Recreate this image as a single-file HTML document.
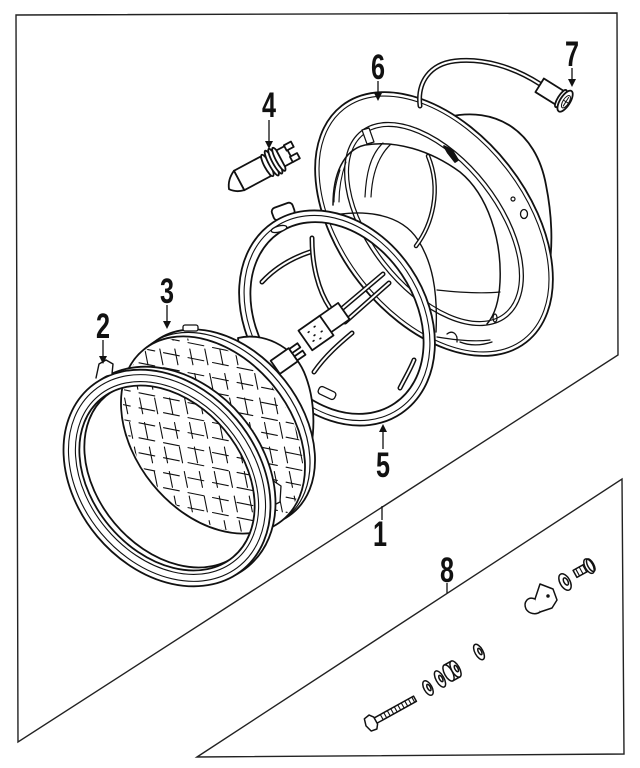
<!DOCTYPE html>
<html><head><meta charset="utf-8"><style>
html,body{margin:0;padding:0;background:#fff;}
svg{display:block;}
.lbl{font-family:"Liberation Sans",sans-serif;font-weight:bold;font-size:35px;fill:#111;}
</style></head><body>
<svg width="640" height="768" viewBox="0 0 640 768" xmlns="http://www.w3.org/2000/svg">
<defs>
<clipPath id="lens"><ellipse cx="0" cy="0" rx="108" ry="76" transform="translate(213,435) rotate(51)"/></clipPath>
</defs>
<rect width="640" height="768" fill="#fff"/>

<!-- frames -->
<g fill="none" stroke="#222" stroke-width="1.4">
<polygon points="16,15 617,13 618,355 18,742"/>
<polygon points="197,757 622,479 624,754"/>
</g>

<g stroke="#111" stroke-width="1.8" fill="#fff" stroke-linejoin="round" stroke-linecap="round">

<!-- PART 6 housing -->
<path d="M448,117 C495,106 536,130 546,185 C552,215 553,245 549,268" fill="none"/>
<g transform="translate(434,224) rotate(52)">
 <ellipse rx="150" ry="95"/>
 <ellipse rx="146" ry="91" fill="none" stroke-width="1.1"/>
 <ellipse rx="118" ry="66" fill="none" stroke-width="1.3"/>
 <ellipse rx="114" ry="62" fill="none" stroke-width="1.2"/>
</g>
<path d="M333,205 C333,175 343,150 365,145 C395,140 430,150 460,172 C488,195 502,240 500,282 C499,302 494,316 487,324" fill="none" stroke-width="1.5"/>
<path d="M383,143 C370,155 366,175 365,197 M391,144 C377,157 372,177 371,197" fill="none" stroke-width="1.2"/>
<path d="M340,170 C336,182 334,192 334,202 M346,162 C341,176 339,190 339,202" fill="none" stroke-width="1.1"/>
<circle cx="513" cy="199" r="2" fill="none" stroke-width="1.2"/>
<ellipse cx="524" cy="214" rx="3.5" ry="4.5" fill="none" stroke-width="1.3"/>
<ellipse cx="495" cy="318" rx="2" ry="4" fill="none" stroke-width="1.2"/>
<path d="M444,146 L452,150 L458,160 L455,162 L448,153 Z" fill="#111"/>
<path d="M362,130 L369,128 L374,142 L367,144 Z" stroke-width="1.2"/>
<!-- interior curves of housing -->
<path d="M320,218 C360,208 400,212 418,240 C432,262 438,290 436,332" fill="none" stroke-width="1.4"/>
<path d="M437,290 C455,292 480,294 500,292" fill="none" stroke-width="1.2"/>
<path d="M437,337 C455,340 475,342 490,340" fill="none" stroke-width="1.2"/>
<path d="M447,334 C452,330 458,333 457,342 M460,342 C470,346 480,346 492,342" fill="none" stroke-width="1.3"/>
<!-- wires inside housing -->
<path d="M428,156 C442,190 432,225 416,246" fill="none" stroke-width="4.5"/>
<path d="M428,156 C442,190 432,225 416,246" fill="none" stroke="#fff" stroke-width="1.8"/>

<!-- wire & connector 7 -->
<path d="M420,106 C417,82 430,64 455,61 C482,58 512,66 540,84" fill="none" stroke-width="5"/>
<path d="M420,106 C417,82 430,64 455,61 C482,58 512,66 540,84" fill="none" stroke="#fff" stroke-width="2"/>
<g transform="translate(560,98) rotate(32)">
 <rect x="-24" y="-8" width="24" height="16"/>
 <ellipse cx="1" rx="3" ry="10"/>
 <ellipse cx="6" rx="5" ry="12"/>
 <ellipse cx="7" rx="3" ry="7" fill="none" stroke-width="1"/>
 <path d="M7,-5 L7,5 M4,0 L10,0" fill="none" stroke-width="1"/>
</g>

<!-- PART 5 retaining ring -->
<rect x="272" y="205" width="22" height="13" rx="4" transform="rotate(-20 283 211)"/>
<g transform="translate(337,318) rotate(56)">
 <path fill-rule="evenodd" d="M-115,0 A115,89 0 1 0 115,0 A115,89 0 1 0 -115,0 Z M-103,0 A103,78 0 1 0 103,0 A103,78 0 1 0 -103,0 Z"/>
 <ellipse rx="110" ry="84" fill="none" stroke-width="1.1"/>
</g>
<ellipse cx="279" cy="229" rx="8" ry="3" transform="rotate(-15 279 229)" stroke-width="1.3"/>
<rect x="318" y="389" width="18" height="8" rx="3" transform="rotate(25 327 393)" stroke-width="1.3"/>
<!-- ring arms -->
<path d="M262,282 C275,268 292,258 310,252" fill="none" stroke-width="5"/>
<path d="M262,282 C275,268 292,258 310,252" fill="none" stroke="#fff" stroke-width="2"/>
<path d="M312,238 C312,265 318,290 330,308" fill="none" stroke-width="5"/>
<path d="M312,238 C312,265 318,290 330,308" fill="none" stroke="#fff" stroke-width="2"/>
<path d="M314,372 C325,356 340,343 352,333" fill="none" stroke-width="5"/>
<path d="M314,372 C325,356 340,343 352,333" fill="none" stroke="#fff" stroke-width="2"/>
<path d="M400,388 C405,378 410,370 414,360" fill="none" stroke-width="5"/>
<path d="M400,388 C405,378 410,370 414,360" fill="none" stroke="#fff" stroke-width="2"/>
<!-- wires to connector -->
<path d="M338,312 L383,274 M345,322 L389,283" fill="none" stroke-width="5"/>
<path d="M338,312 L383,274 M345,322 L389,283" fill="none" stroke="#fff" stroke-width="2"/>
<g transform="translate(334,318) rotate(-35)"><rect x="-12" y="-10" width="24" height="20"/></g>
<g transform="translate(316,333) rotate(-35)"><rect x="-13" y="-12" width="26" height="24"/>
 <path d="M-6,-5 h1 M2,-6 h1 M-3,1 h1 M5,2 h1 M-7,5 h1 M0,7 h1" stroke-width="1.6"/></g>

<!-- PART 3 sealed beam -->
<path d="M238,338 C262,332 292,345 304,372 C313,393 316,420 311,448 L250,440 Z"/>
<ellipse rx="110" ry="78" transform="translate(223,428) rotate(51)"/>
<ellipse rx="110" ry="78" transform="translate(218,431) rotate(51)" fill="none" stroke-width="1.2"/>
<rect x="183" y="325" width="15" height="6" rx="2" stroke-width="1.3"/>
<ellipse rx="110" ry="78" transform="translate(213,435) rotate(51)"/>
<g clip-path="url(#lens)" fill="none" stroke-width="1.1" stroke-dasharray="16 9">
<path d="M90,278L330,326 M90,293L330,341 M90,308L330,356 M90,323L330,371 M90,338L330,386 M90,353L330,401 M90,368L330,416 M90,383L330,431 M90,398L330,446 M90,413L330,461 M90,428L330,476 M90,443L330,491 M90,458L330,506 M90,473L330,521 M90,488L330,536 M90,503L330,551 M90,518L330,566 M90,533L330,581 M90,548L330,596"/>
<path d="M60,300L112,560 M75,300L127,560 M90,300L142,560 M105,300L157,560 M120,300L172,560 M135,300L187,560 M150,300L202,560 M165,300L217,560 M180,300L232,560 M195,300L247,560 M210,300L262,560 M225,300L277,560 M240,300L292,560 M255,300L307,560 M270,300L322,560 M285,300L337,560 M300,300L352,560 M315,300L367,560 M330,300L382,560"/>
</g>
<path d="M258,474 L266,470 L272,480 L281,486 L280,502 L272,506" stroke-width="1.3"/>
<!-- terminals -->
<g transform="translate(290,357) rotate(-35)">
 <rect x="-18" y="-8" width="22" height="16"/>
 <rect x="4" y="-7" width="10" height="5"/>
 <rect x="4" y="2" width="10" height="5"/>
</g>

<!-- PART 2 bezel -->
<g transform="translate(172,475) rotate(50)">
 <path fill-rule="evenodd" d="M-119,0 A119,91 0 1 0 119,0 A119,91 0 1 0 -119,0 Z M-103,0 A103,75 0 1 0 103,0 A103,75 0 1 0 -103,0 Z"/>
</g>
<g transform="translate(167,478) rotate(50)">
 <path fill-rule="evenodd" d="M-119,0 A119,91 0 1 0 119,0 A119,91 0 1 0 -119,0 Z M-103,0 A103,75 0 1 0 103,0 A103,75 0 1 0 -103,0 Z"/>
 <ellipse rx="114" ry="86" fill="none" stroke-width="1.1"/>
 <ellipse rx="107" ry="79" fill="none" stroke-width="1.1"/>
</g>
<path d="M96,378 L99,364 L106,360 L113,364 L112,374" stroke-width="1.4"/>

<!-- PART 4 bulb -->
<g transform="translate(255,172) rotate(-28)">
 <path d="M-18,-11 L12,-11 L12,11 L-18,11 Z"/>
 <path d="M-18,-11 C-24,-8 -29,-3 -31,3 C-28,7 -23,10 -18,11 Z"/>
 <ellipse cx="14" rx="3" ry="12"/>
 <ellipse cx="19" rx="3" ry="14"/>
 <ellipse cx="23" rx="3" ry="14"/>
 <ellipse cx="27" rx="3" ry="13"/>
 <rect x="29" y="-9" width="10" height="18"/>
 <rect x="38" y="-10" width="8" height="6"/>
 <rect x="38" y="3" width="8" height="6"/>
</g>

<!-- PART 8 hardware -->
<g transform="translate(373,722) rotate(-29)" stroke-width="1.5">
 <rect x="2" y="-3" width="46" height="6"/>
 <path d="M10,-3 v6 M14,-3 v6 M18,-3 v6 M22,-3 v6 M26,-3 v6 M30,-3 v6 M34,-3 v6 M38,-3 v6 M42,-3 v6 M46,-3 v6" fill="none" stroke-width="1.1"/>
 <path d="M-6,-7 L0,-8 L3,-4 L3,4 L0,8 L-6,7 L-8,0 Z"/>
</g>
<g stroke-width="1.5">
 <g transform="translate(428,688) rotate(-29)"><ellipse rx="4" ry="8"/><ellipse cx="1" rx="1.5" ry="3.5" fill="none"/></g>
 <g transform="translate(440,679) rotate(-29)"><ellipse rx="4" ry="9"/><ellipse cx="1" rx="1.5" ry="3.5" fill="none"/></g>
 <g transform="translate(452,671) rotate(-29)"><rect x="-4" y="-9" width="8" height="18" stroke="none"/><path d="M-4,-9 L4,-9 M-4,9 L4,9" fill="none"/><ellipse cx="-4" rx="4" ry="9"/><ellipse cx="4" rx="4" ry="9"/><ellipse cx="5" rx="1.5" ry="3.5" fill="none"/></g>
 <g transform="translate(479,652) rotate(-29)"><ellipse rx="4" ry="8.5"/><ellipse cx="1" rx="1.5" ry="3.5" fill="none"/></g>
 <path d="M540,584 L553,589 L557,600 L552,608 L540,612 L535,607 L535,599 Z"/>
 <path d="M535,599 C528,596 523,602 526,609 C529,614 536,615 540,612" />
 <circle cx="548" cy="596" r="1" fill="#111"/>
 <g transform="translate(565,582) rotate(-29)"><ellipse rx="5" ry="9"/><ellipse cx="1" rx="2" ry="4" fill="none"/></g>
 <g transform="translate(582,570) rotate(-29)"><rect x="-8" y="-4" width="14" height="8"/>
  <path d="M-5,-4 v8 M-1,-4 v8 M3,-4 v8" fill="none" stroke-width="1.1"/>
  <ellipse cx="8" rx="4" ry="8"/><ellipse cx="10" rx="3" ry="7" fill="none"/></g>
</g>
</g>

<!-- leaders -->
<g stroke="#111" stroke-width="1.3" fill="none">
<path d="M103,340 V357 M167,305 V322 M269,120 V142 M378,81 V94 M572,68 V80 M383,449 V431 M382,506 V520 M447,583 V593"/>
</g>
<g fill="#111">
<polygon points="99,356 107,356 103,364"/>
<polygon points="163,321 171,321 167,329"/>
<polygon points="265,141 273,141 269,149"/>
<polygon points="374,93 382,93 378,101"/>
<polygon points="568,79 576,79 572,87"/>
<polygon points="379,432 387,432 383,424"/>
</g>

<!-- labels -->
<text class="lbl" text-anchor="middle" transform="translate(103,338) scale(0.72,1)">2</text>
<text class="lbl" text-anchor="middle" transform="translate(167,303) scale(0.72,1)">3</text>
<text class="lbl" text-anchor="middle" transform="translate(269,117) scale(0.72,1)">4</text>
<text class="lbl" text-anchor="middle" transform="translate(383,477) scale(0.72,1)">5</text>
<text class="lbl" text-anchor="middle" transform="translate(378,79) scale(0.72,1)">6</text>
<text class="lbl" text-anchor="middle" transform="translate(572,66) scale(0.72,1)">7</text>
<text class="lbl" text-anchor="middle" transform="translate(380,546) scale(0.72,1)">1</text>
<text class="lbl" text-anchor="middle" transform="translate(447,582) scale(0.72,1)">8</text>
</svg>
</body></html>
